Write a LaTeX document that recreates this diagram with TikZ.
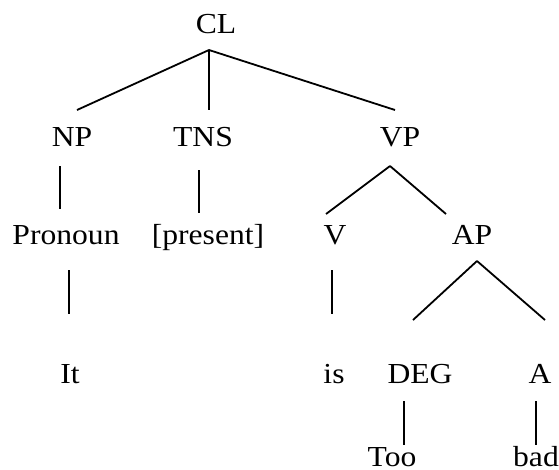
\documentclass[tikz,border=0pt]{standalone}
\usepackage{fontspec}
\setmainfont{Liberation Serif}[FakeStretch=1.09]
\begin{document}
\begin{tikzpicture}[x=1pt,y=-1pt,
  lbl/.style={anchor=base,inner sep=0pt,font=\fontsize{29}{34}\selectfont},
  edge/.style={line width=1.8pt}]
\useasboundingbox (0,0) rectangle (559,469);
% labels
\node[lbl] (CL) at (216,33) {CL};
\node[lbl] (NP) at (72,146) {NP};
\node[lbl] (TNS) at (203,146) {TNS};
\node[lbl] (VP) at (400,146) {VP};
\node[lbl] (Pron) at (66,244) {Pronoun};
\node[lbl] (pres) at (208,244) {[present]};
\node[lbl] (V) at (335,244) {V};
\node[lbl] (AP) at (472,244) {AP};
\node[lbl] (It) at (70,383) {It};
\node[lbl] (is) at (334,383) {is};
\node[lbl] (DEG) at (420,383) {DEG};
\node[lbl] (A) at (540,383) {A};
\node[lbl] (Too) at (392,466) {Too};
\node[lbl] (bad) at (536,466) {bad};
% connector ends
\coordinate (CLb) at (209,50);
\coordinate (NPt) at (77,110);
\coordinate (TNSt) at (209,110);
\coordinate (VPt) at (395,110);
\coordinate (NPb) at (60,166);
\coordinate (Pront) at (60,209);
\coordinate (TNSb) at (199,170);
\coordinate (prest) at (199,213);
\coordinate (VPb) at (390,166);
\coordinate (Vt) at (326,214);
\coordinate (APt) at (446,214);
\coordinate (Pronb) at (69,270);
\coordinate (Itt) at (69,314);
\coordinate (Vb) at (332,270);
\coordinate (ist) at (332,314);
\coordinate (APb) at (477,261);
\coordinate (DEGt) at (413,320);
\coordinate (At) at (545,320);
\coordinate (DEGb) at (404,401);
\coordinate (Toot) at (404,445);
\coordinate (Ab) at (536,401);
\coordinate (badt) at (536,445);
% connectors
\draw[edge] (CLb) -- (NPt);
\draw[edge] (CLb) -- (TNSt);
\draw[edge] (CLb) -- (VPt);
\draw[edge] (NPb) -- (Pront);
\draw[edge] (TNSb) -- (prest);
\draw[edge] (VPb) -- (Vt);
\draw[edge] (VPb) -- (APt);
\draw[edge] (Pronb) -- (Itt);
\draw[edge] (Vb) -- (ist);
\draw[edge] (APb) -- (DEGt);
\draw[edge] (APb) -- (At);
\draw[edge] (DEGb) -- (Toot);
\draw[edge] (Ab) -- (badt);
\end{tikzpicture}
\end{document}
